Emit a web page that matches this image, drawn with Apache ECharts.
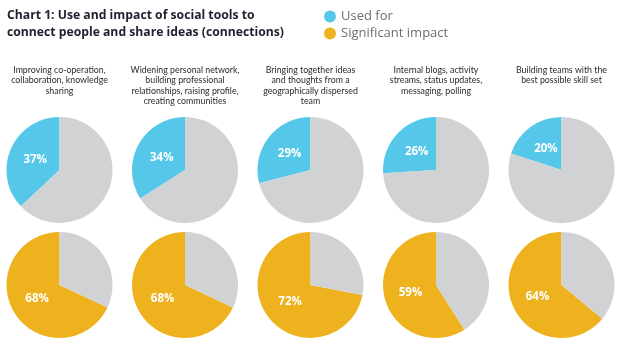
<!DOCTYPE html>
<html><head><meta charset="utf-8">
<script src="https://cdn.jsdelivr.net/npm/echarts@6/dist/echarts.min.js"></script>
<style>html,body{margin:0;padding:0;background:#fff}#c{width:639px;height:356px}</style>
</head><body><div id="c"></div>
<script>
const categories = [
  "Improving co-operation,\ncollaboration, knowledge\nsharing",
  "Widening personal network,\nbuilding professional\nrelationships, raising profile,\ncreating communities",
  "Bringing together ideas\nand thoughts from a\ngeographically dispersed\nteam",
  "Internal blogs, activity\nstreams, status updates,\nmessaging, polling",
  "Building teams with the\nbest possible skill set"
];
const usedFor = [37, 34, 29, 26, 20];
const significantImpact = [68, 68, 72, 59, 64];
const seriesNames = ["Used for", "Significant impact"];
const colors = ["#55c8e9", "#edb21e"];
const restColor = "#d1d2d4";

const chart = echarts.init(document.getElementById('c'));
const cx0 = 59.5, dx = 125.5, rowY = [170, 285], R = 53;
const rows = [usedFor, significantImpact];
const series = [];
const titles = [{
  text: "Chart 1: Use and impact of social tools to\nconnect people and share ideas (connections)",
  left: 7, top: 7, padding: 0,
  textStyle: {fontFamily: 'Open Sans', fontWeight: 'bold', fontSize: 12.2, lineHeight: 17, color: '#1f1f2e'}
}];
categories.forEach((cat, i) => {
  titles.push({
    text: cat, left: cx0 + dx * i, top: 64.5, textAlign: 'center', padding: 0,
    textStyle: {fontFamily: 'Lato', fontWeight: 'normal', fontSize: 8.8, lineHeight: 10.6, color: '#2a2a2a'}
  });
});
rows.forEach((vals, r) => {
  vals.forEach((v, i) => {
    const center = [cx0 + dx * i, rowY[r]];
    series.push({
      type: 'pie', center: center, radius: R,
      startAngle: 90, clockwise: false, silent: true, animation: false,
      label: {show: false}, labelLine: {show: false},
      data: [
        {name: seriesNames[r], value: v, itemStyle: {color: colors[r]}},
        {name: 'Other', value: 100 - v, itemStyle: {color: restColor}}
      ]
    });
    // label carrier: same slices, transparent, smaller radius so labels sit nearer the centre
    series.push({
      type: 'pie', center: center, radius: 47,
      startAngle: 90, clockwise: false, silent: true, animation: false,
      legendHoverLink: false,
      itemStyle: {color: 'rgba(0,0,0,0)'},
      label: {show: true, position: 'inside', formatter: '{c}%', color: '#fff',
              fontFamily: 'Open Sans', fontWeight: 'bold', fontSize: 11.5},
      labelLine: {show: false},
      data: [
        {name: seriesNames[r] + ' ', value: v},
        {name: 'Other ', value: 100 - v, label: {show: false}}
      ]
    });
  });
});
chart.setOption({
  animation: false,
  title: titles,
  legend: {
    data: seriesNames, orient: 'vertical', left: 319, top: 5,
    icon: 'circle', itemWidth: 12, itemHeight: 12, itemGap: 4,
    textStyle: {fontFamily: 'Open Sans', fontSize: 13, color: '#6d6e71'},
    selectedMode: false
  },
  series: series
});
</script></body></html>
